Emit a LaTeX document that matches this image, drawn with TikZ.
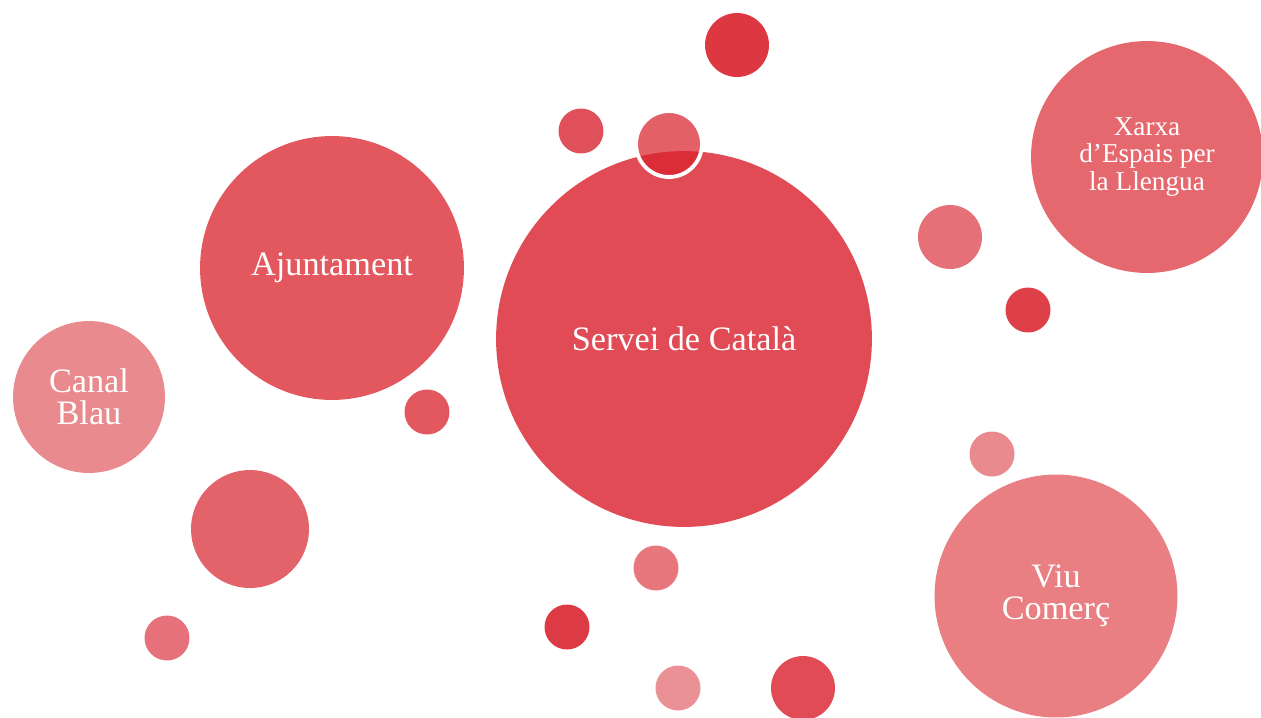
\documentclass[tikz,border=0pt]{standalone}
\usepackage{fontspec}
\setmainfont{Liberation Serif}

\definecolor{redA}{HTML}{E04B55}
\definecolor{redB}{HTML}{E3585E}
\definecolor{redC}{HTML}{E98A8E}
\definecolor{redD}{HTML}{E6686F}
\definecolor{redE}{HTML}{E97F82}
\definecolor{redF}{HTML}{DD3842}
\definecolor{redG}{HTML}{E0505A}
\definecolor{redH}{HTML}{E67077}
\definecolor{redI}{HTML}{DE404A}
\definecolor{redJ}{HTML}{E3636A}
\definecolor{redK}{HTML}{E6717A}
\definecolor{redL}{HTML}{E7777D}
\definecolor{redM}{HTML}{DC3A44}
\definecolor{redN}{HTML}{EA9196}
\definecolor{redO}{HTML}{D8222D}

\begin{document}
\begin{tikzpicture}[x=0.02cm, y=-0.02cm,
  bubble/.style={circle, inner sep=0pt, minimum size=#1*0.04cm, text=white,
    align=center, font=\fontsize{19.5}{18}\selectfont},
  dot/.style={circle, inner sep=0pt, minimum size=#1*0.04cm}]
\useasboundingbox (0,0) rectangle (1261,717);

% the named bubbles
\node[bubble=188, fill=redA] (servei) at (684,339) {Servei de Catal\`a};
\node[bubble=132, fill=redB] (ajunt) at (332,268) {Ajuntament};
\node[bubble=76, fill=redC] (canal) at (89,397) {Canal\\Blau};
\node[bubble=116, fill=redD, font=\fontsize{15.5}{15.9}\selectfont] (xarxa) at (1147,157) {Xarxa\\d’Espais per\\la Llengua};
\node[bubble=121.5, fill=redE] (viu) at (1056,596) {Viu\\Comer\c{c}};

% small dots
\node[dot=32, fill=redF] (d1) at (737,45) {};
\node[dot=22.5, fill=redG] (d2) at (581,131) {};
\node[dot=32, fill=redH] (d3) at (950,237) {};
\node[dot=22.5, fill=redI] (d4) at (1028,310) {};
\node[dot=22.5, fill=redB] (d5) at (427,412) {};
\node[dot=59, fill=redJ] (d6) at (250,529) {};
\node[dot=22.5, fill=redK] (d7) at (167,638) {};
\node[dot=22.5, fill=redC] (d8) at (992,454) {};
\node[dot=22.5, fill=redL] (d9) at (656,568) {};
\node[dot=22.5, fill=redM] (d10) at (567,627) {};
\node[dot=22.5, fill=redN] (d11) at (678,688) {};
\node[dot=32, fill=redA] (d12) at (803,688) {};
\node[dot=33, fill=redO, fill opacity=0.72, draw=white, line width=2.2pt] (d13) at (669,144) {};
\end{tikzpicture}
\end{document}
